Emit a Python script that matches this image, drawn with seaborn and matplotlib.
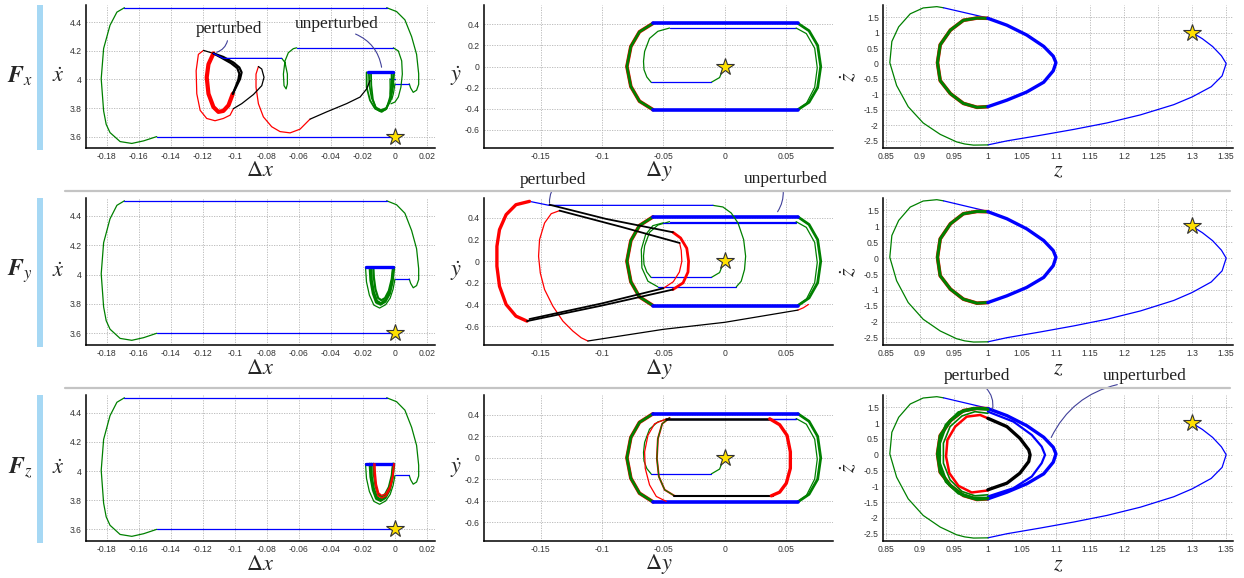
import numpy as np
import matplotlib
matplotlib.use('Agg')
import matplotlib.pyplot as plt
import seaborn as sns
from matplotlib.patches import Rectangle, FancyArrowPatch
from matplotlib.lines import Line2D

sns.set_style('white')
plt.rcParams['font.family'] = ['Liberation Sans', 'DejaVu Sans']
plt.rcParams['mathtext.fontset'] = 'stix'

W, H = 1244, 578
BLUE, GREEN, RED, BLACK = '#0000ff', '#008000', '#ff0000', '#000000'

# tick values / labels
DX_TICKS = [-0.18, -0.16, -0.14, -0.12, -0.1, -0.08, -0.06, -0.04, -0.02, 0, 0.02]
DX_LABELS = ['-0.18', '-0.16', '-0.14', '-0.12', '-0.1', '-0.08', '-0.06', '-0.04', '-0.02', '0', '0.02']
XD_TICKS = [3.6, 3.8, 4.0, 4.2, 4.4]
XD_LABELS = ['3.6', '3.8', '4', '4.2', '4.4']
DY_TICKS = [-0.15, -0.1, -0.05, 0, 0.05]
DY_LABELS = ['-0.15', '-0.1', '-0.05', '0', '0.05']
YD_TICKS = [-0.6, -0.4, -0.2, 0, 0.2, 0.4]
YD_LABELS = ['-0.6', '-0.4', '-0.2', '0', '0.2', '0.4']
Z_TICKS = [0.85, 0.9, 0.95, 1.0, 1.05, 1.1, 1.15, 1.2, 1.25, 1.3, 1.35]
Z_LABELS = ['0.85', '0.9', '0.95', '1', '1.05', '1.1', '1.15', '1.2', '1.25', '1.3', '1.35']
ZD_TICKS = [-2.5, -2, -1.5, -1, -0.5, 0, 0.5, 1, 1.5]
ZD_LABELS = ['-2.5', '-2', '-1.5', '-1', '-0.5', '0', '0.5', '1', '1.5']

ROW_LABELS = [r'$\mathbfit{F}_{x}$', r'$\mathbfit{F}_{y}$', r'$\mathbfit{F}_{z}$']

# start points (stars)
STAR_X = (0.0, 3.6)
STAR_Y = (0.0, 0.0)
STAR_Z = (1.3, 1.0)

# ---------------- column 1 : (dx, xdot) ----------------
DX_BASE_BLUE = [(-0.1488, 3.6), (0.0, 3.6)]
DX_LEFT_ARC = [(-0.1488, 3.6), (-0.157, 3.57), (-0.1644, 3.552), (-0.1717, 3.565), (-0.178, 3.628),
               (-0.1804, 3.686), (-0.182, 3.78), (-0.1835, 4.005), (-0.182, 4.217), (-0.178, 4.38),
               (-0.1737, 4.472), (-0.169, 4.503)]
DX_TOP_BLUE = [(-0.169, 4.503), (-0.0052, 4.503)]
DX_RIGHT_ARC = [(-0.0052, 4.503), (0.001, 4.476), (0.0062, 4.418), (0.0104, 4.30), (0.0135, 4.176),
                (0.0148, 4.04), (0.0148, 3.966), (0.0135, 3.925), (0.0114, 3.91), (0.0098, 3.94), (0.0089, 3.97)]
DX_SHORT_BLUE = [(0.0089, 3.97), (0.0, 3.97)]

DX_BAR = [(-0.0184, 4.05), (-0.001, 4.05)]
DX_U_OUTER = [(0.0, 3.97), (-0.0012, 3.90), (-0.003, 3.84), (-0.0058, 3.795), (-0.0096, 3.772),
              (-0.0132, 3.792), (-0.016, 3.86), (-0.0178, 3.95), (-0.0184, 4.05)]
DX_U1 = [(-0.001, 4.05), (-0.0018, 3.96), (-0.0035, 3.88), (-0.0062, 3.825), (-0.0088, 3.805),
         (-0.0112, 3.82), (-0.0132, 3.88), (-0.0145, 3.96), (-0.0148, 4.05)]
DX_U2 = [(-0.0012, 4.05), (-0.002, 3.97), (-0.0038, 3.89), (-0.0062, 3.84), (-0.0085, 3.825),
         (-0.0105, 3.84), (-0.0122, 3.9), (-0.0132, 3.98), (-0.0135, 4.05)]
DX_U3 = [(-0.0005, 4.05), (-0.0015, 3.95), (-0.0032, 3.87), (-0.006, 3.815), (-0.009, 3.795),
         (-0.0118, 3.81), (-0.0138, 3.87), (-0.0153, 3.96), (-0.0158, 4.05)]
DX_RED_U1 = [(-0.0005, 4.05), (-0.0012, 3.96), (-0.003, 3.88), (-0.0055, 3.83), (-0.0082, 3.815),
             (-0.0106, 3.83), (-0.0122, 3.9), (-0.013, 3.98), (-0.0132, 4.05)]
DX_RED_U2 = [(-0.0008, 4.05), (-0.0015, 3.97), (-0.0033, 3.89), (-0.0057, 3.845), (-0.0082, 3.832),
             (-0.0102, 3.85), (-0.0116, 3.91), (-0.0123, 3.99), (-0.0125, 4.05)]

# row 1 unperturbed cluster
DX1_BAR = [(-0.0166, 4.05), (-0.001, 4.05)]
DX1_U_A = [(-0.0021, 4.05), (-0.0021, 3.992), (-0.0031, 3.877), (-0.0052, 3.796), (-0.0083, 3.773),
           (-0.0125, 3.796), (-0.0156, 3.854), (-0.0177, 3.946), (-0.0177, 4.05)]
DX1_U_B = [(-0.001, 4.05), (-0.0015, 3.96), (-0.003, 3.86), (-0.0055, 3.80), (-0.0088, 3.785),
           (-0.012, 3.805), (-0.0145, 3.87), (-0.016, 3.96), (-0.0163, 4.05)]
DX1_U_C = [(-0.0005, 4.05), (-0.0012, 3.95), (-0.0028, 3.85), (-0.0058, 3.79), (-0.0092, 3.777),
           (-0.0118, 3.795), (-0.0138, 3.86), (-0.0148, 3.96), (-0.015, 4.05)]
DX1_TALL = [(-0.001, 4.222), (0.0021, 4.20), (0.0042, 4.13), (0.0046, 4.038), (0.0037, 3.946),
            (0.0021, 3.877), (0.0, 3.842), (-0.0025, 3.83)]
DX1_HOOK = [(0.0, 3.97), (-0.001, 3.90), (-0.002, 3.86), (-0.003, 3.90), (-0.0031, 4.005)]
DX1_HOOK_BLUE = [(-0.0031, 4.005), (0.0, 4.005)]

# row 1 perturbed
DX1_P_RED = [(-0.1134, 4.183), (-0.1165, 4.107), (-0.1176, 4.015), (-0.1165, 3.900), (-0.1134, 3.807),
             (-0.1103, 3.773), (-0.1072, 3.780), (-0.1040, 3.819), (-0.1013, 3.900)]
DX1_P_BLACK_A = [(-0.1013, 3.900), (-0.0988, 3.957), (-0.0968, 4.003), (-0.0958, 4.050), (-0.0972, 4.084),
                 (-0.1009, 4.119), (-0.1072, 4.158), (-0.1134, 4.183)]
DX1_P_BLACK_B = [(-0.1013, 3.90), (-0.0995, 3.95), (-0.0978, 4.0), (-0.0972, 4.04), (-0.0985, 4.08),
                 (-0.1025, 4.115), (-0.108, 4.15), (-0.1134, 4.183)]
DX1_P_TOP_BLACK = [(-0.1196, 4.204), (-0.1134, 4.183)]
DX1_P_THIN_RED = [(-0.1196, 4.204), (-0.1228, 4.176), (-0.1242, 4.061), (-0.1238, 3.900), (-0.1217, 3.784),
                  (-0.1176, 3.727), (-0.1124, 3.711), (-0.1072, 3.727), (-0.1030, 3.750), (-0.1009, 3.796)]
DX1_P_MID_BLACK = [(-0.1009, 3.796), (-0.0957, 3.831), (-0.0884, 3.895), (-0.0832, 3.957), (-0.0818, 4.015),
                   (-0.0832, 4.073), (-0.0853, 4.091)]
DX1_P_LOW_RED = [(-0.0853, 4.091), (-0.0868, 4.038), (-0.0868, 3.946), (-0.0853, 3.830), (-0.0822, 3.738),
                 (-0.0770, 3.669), (-0.0718, 3.635), (-0.0655, 3.626), (-0.0593, 3.652), (-0.0531, 3.722)]
DX1_P_LINK_BLACK = [(-0.0531, 3.722), (-0.0427, 3.773), (-0.0302, 3.831), (-0.0218, 3.877),
                    (-0.0177, 3.934), (-0.0156, 3.992)]
DX1_P_BLUE = [(-0.1134, 4.183), (-0.1072, 4.148), (-0.0707, 4.148)]
DX1_P_GREEN = [(-0.0707, 4.148), (-0.0687, 4.119), (-0.0672, 4.038), (-0.0672, 3.969), (-0.068, 3.934),
               (-0.0693, 3.957), (-0.0697, 4.038), (-0.0687, 4.13), (-0.0666, 4.188), (-0.0635, 4.216),
               (-0.0614, 4.222)]
DX1_UPPER_BLUE = [(-0.0614, 4.222), (-0.001, 4.222)]

# ---------------- column 2 : (dy, ydot) ----------------
DY_STAR_GREEN = [(0.0, 0.0), (-0.0016, -0.027), (-0.0043, -0.105), (-0.011, -0.15)]
DY_INNER_BLUE = [(-0.011, -0.15), (-0.060, -0.15)]
DY_INNER_GREEN = [(-0.060, -0.15), (-0.0635, -0.1), (-0.0658, -0.03), (-0.0662, 0.05), (-0.0653, 0.143),
                  (-0.0613, 0.267), (-0.0545, 0.335), (-0.045, 0.366)]
DY_MID_BLUE = [(-0.045, 0.366), (0.058, 0.366)]
DY_MID_GREEN = [(0.058, 0.366), (0.0663, 0.313), (0.0731, 0.174), (0.0752, -0.012), (0.0731, -0.198),
                (0.0663, -0.352), (0.0595, -0.405)]
DY_LOW_BLUE = [(0.0595, -0.41), (-0.0585, -0.41)]
DY_LEFT_GREEN = [(-0.0585, -0.41), (-0.0695, -0.33), (-0.0765, -0.19), (-0.0797, 0.0), (-0.0765, 0.19),
                 (-0.0695, 0.33), (-0.0585, 0.41)]
DY_TOP_BLUE = [(-0.0585, 0.41), (0.0595, 0.41)]
DY_RIGHT_GREEN = [(0.0595, 0.41), (0.0685, 0.34), (0.0755, 0.2), (0.078, 0.0), (0.0755, -0.2),
                  (0.0685, -0.34), (0.0595, -0.41)]

# row 2 perturbed (y)
DY2_LOOP_GREEN = [(-0.0545, -0.237), (-0.0626, -0.185), (-0.0675, -0.062), (-0.068, 0.108),
                  (-0.0645, 0.246), (-0.0586, 0.329), (-0.050, 0.356)]
DY2_LOOP_BLUE = [(-0.050, 0.356), (0.058, 0.356)]
DY2_LOW_BLUE = [(-0.0545, -0.237), (0.0093, -0.237)]
DY2_RIGHT_GREEN = [(0.0093, -0.237), (0.0133, -0.185), (0.016, -0.077), (0.0169, 0.046), (0.0153, 0.2),
                   (0.0107, 0.354), (0.0052, 0.446), (-0.0016, 0.502), (-0.0097, 0.517)]
DY2_TOP_BLUE = [(-0.0097, 0.517), (-0.143, 0.517), (-0.159, 0.554)]
DY2_BIG_RED = [(-0.159, 0.554), (-0.170, 0.523), (-0.178, 0.431), (-0.1834, 0.292), (-0.1855, 0.138),
               (-0.1855, -0.046), (-0.1834, -0.231), (-0.178, -0.4), (-0.170, -0.508), (-0.161, -0.554)]
DY2_UP_BLACK = [(-0.1427, 0.523), (-0.0965, 0.391), (-0.0423, 0.268)]
DY2_UP_BLACK2 = [(-0.1345, 0.468), (-0.085, 0.32), (-0.0368, 0.169)]
DY2_LOW_BLACK = [(-0.161, -0.554), (-0.1, -0.41), (-0.0423, -0.262)]
DY2_LOW_BLACK2 = [(-0.159, -0.535), (-0.1, -0.39), (-0.05, -0.25)]
DY2_BOT_BLACK = [(-0.1115, -0.738), (-0.05, -0.63), (0.0, -0.565), (0.0595, -0.452)]
DY2_MID_RED = [(-0.0423, 0.268), (-0.036, 0.215), (-0.031, 0.12), (-0.0295, 0.0), (-0.030, -0.1),
               (-0.034, -0.2), (-0.0423, -0.262)]
DY2_IN_RED = [(-0.0368, 0.169), (-0.0355, 0.1), (-0.035, 0.0), (-0.037, -0.1), (-0.042, -0.19), (-0.05, -0.25)]
DY2_THIN_RED = [(-0.1345, 0.468), (-0.1413, 0.44), (-0.1467, 0.354), (-0.1508, 0.2), (-0.1516, 0.046),
                (-0.1502, -0.108), (-0.1467, -0.262), (-0.14, -0.415), (-0.1318, -0.554), (-0.1237, -0.646),
                (-0.1169, -0.708), (-0.1115, -0.738)]
DY2_END_RED = [(0.0595, -0.452), (0.064, -0.43), (0.068, -0.40)]

# row 3 perturbed (y)
DY3_RED_LEFT = [(-0.0477, 0.363), (-0.0572, 0.317), (-0.0626, 0.209), (-0.0653, 0.055), (-0.0648, -0.098),
                (-0.0613, -0.252), (-0.0558, -0.36), (-0.0477, -0.406)]
DY3_IN_LEFT = [(-0.045, 0.372), (-0.051, 0.317), (-0.0545, 0.178), (-0.0553, -0.006), (-0.0537, -0.175),
               (-0.049, -0.298), (-0.041, -0.354)]
DY3_TOP_BLACK = [(-0.0477, 0.363), (0.0365, 0.363)]
DY3_BOT_BLACK = [(-0.041, -0.354), (0.039, -0.354)]
DY3_RED_RIGHT = [(0.0365, 0.363), (0.0446, 0.308), (0.0506, 0.209), (0.0533, 0.055), (0.0533, -0.098),
                 (0.05, -0.237), (0.0446, -0.32), (0.0378, -0.354)]
DY3_LINK_BLUE = [(0.0365, 0.363), (0.058, 0.363)]

# ---------------- column 3 : (z, zdot) ----------------
DZ_STAR_BLUE = [(1.3, 1.0), (1.315, 0.8), (1.33, 0.55), (1.343, 0.25), (1.35, 0.0), (1.344, -0.4),
                (1.328, -0.75), (1.30, -1.08), (1.273, -1.33), (1.224, -1.66), (1.175, -1.92),
                (1.126, -2.13), (1.077, -2.32), (1.028, -2.5), (1.0, -2.63)]
DZ_OUTER_GREEN = [(1.0, -2.63), (0.979, -2.637), (0.966, -2.6), (0.954, -2.532), (0.930, -2.289),
                  (0.905, -1.921), (0.883, -1.395), (0.866, -0.711), (0.856, 0.026), (0.859, 0.711),
                  (0.869, 1.184), (0.886, 1.605), (0.905, 1.795), (0.925, 1.837), (0.935, 1.80)]
DZ_LINK_BLUE = [(0.935, 1.80), (1.0, 1.47)]
DZ_LOOP_BLUE = [(1.0, 1.46), (1.028, 1.237), (1.057, 0.921), (1.082, 0.553), (1.096, 0.237), (1.100, 0.026),
                (1.096, -0.237), (1.082, -0.605), (1.057, -0.921), (1.028, -1.184), (1.0, -1.395)]
DZ_LOOP_GREEN = [(1.0, -1.395), (0.984, -1.416), (0.964, -1.289), (0.945, -0.974), (0.930, -0.553),
                 (0.926, 0.026), (0.930, 0.605), (0.945, 1.079), (0.964, 1.395), (0.984, 1.468), (1.0, 1.46)]

# row 3 perturbed (z)
DZ3_BLUE2 = [(1.0, 1.363), (1.0376, 1.047), (1.0645, 0.626), (1.079, 0.258), (1.084, -0.005),
             (1.079, -0.268), (1.0645, -0.689), (1.0376, -1.058), (1.0, -1.321)]
DZ3_BLACK = [(1.0, 1.153), (1.028, 0.889), (1.047, 0.521), (1.060, 0.153), (1.062, -0.005),
             (1.060, -0.216), (1.047, -0.584), (1.028, -0.9), (1.0, -1.11)]
DZ3_RED = [(1.0, 1.153), (0.9886, 1.258), (0.969, 1.205), (0.952, 0.889), (0.9406, 0.468), (0.9386, -0.058),
           (0.9435, -0.584), (0.9568, -0.984), (0.9763, -1.195), (1.0, -1.13)]
DZ3_GREEN1 = [(1.0, 1.437), (0.979, 1.468), (0.957, 1.332), (0.9386, 0.942), (0.929, 0.363), (0.929, -0.268),
              (0.9386, -0.847), (0.957, -1.216), (0.979, -1.374), (1.0, -1.374)]
DZ3_GREEN2 = [(1.0, 1.31), (0.981, 1.363), (0.962, 1.226), (0.9445, 0.889), (0.9347, 0.363), (0.9347, -0.268),
              (0.9445, -0.795), (0.962, -1.163), (0.981, -1.3), (1.0, -1.268)]


def trace(ax, pts, color, lw=0.9, z=2):
    p = np.asarray(pts)
    sns.lineplot(x=p[:, 0], y=p[:, 1], sort=False, estimator=None, color=color, lw=lw,
                 ax=ax, zorder=z, solid_joinstyle='round', solid_capstyle='round')


def star(ax, pt):
    ax.plot([pt[0]], [pt[1]], marker='*', ms=13, mfc='#ffe000', mec='#333333', mew=0.8, zorder=10, clip_on=False)


def setup(ax, xlim, ylim, xt, xl, yt, yl, xlabel, ylabel, yrot, ylx):
    ax.set_xlim(xlim)
    ax.set_ylim(ylim)
    ax.set_xticks(xt, xl)
    ax.set_yticks(yt, yl)
    ax.grid(True, color='#b4b4b4', lw=0.6, ls=(0, (1.5, 1.5)))
    ax.set_axisbelow(True)
    for s in ['top', 'right']:
        ax.spines[s].set_visible(False)
    for s in ['left', 'bottom']:
        ax.spines[s].set_color('black')
        ax.spines[s].set_linewidth(1.1)
    ax.tick_params(labelsize=6.2, labelcolor='#333333', color='black', length=2, direction='in', pad=3)
    ax.set_xlabel(xlabel, fontsize=16, va='center')
    ax.xaxis.set_label_coords(0.5, -0.16)
    ax.set_ylabel(ylabel, fontsize=16, rotation=yrot, va='center', ha='center')
    ax.yaxis.set_label_coords(ylx, 0.5)


fig = plt.figure(figsize=(W / 100, H / 100), dpi=100)


def add_axes(left, right, top, bottom):
    return fig.add_axes([left / W, 1 - bottom / H, (right - left) / W, (bottom - top) / H])


ROW_TB = [(5, 148), (198, 345), (395, 541)]
COL_LR = [(86, 435), (484, 833), (883, 1233)]

for r, (top, bot) in enumerate(ROW_TB):
    # ----- column 1
    ax = add_axes(COL_LR[0][0], COL_LR[0][1], top, bot)
    for seg in [DX_LEFT_ARC, DX_RIGHT_ARC]:
        trace(ax, seg, GREEN)
    for seg in [DX_BASE_BLUE, DX_TOP_BLUE, DX_SHORT_BLUE]:
        trace(ax, seg, BLUE)
    if r == 0:
        trace(ax, DX1_TALL, GREEN)
        trace(ax, DX1_HOOK, GREEN)
        trace(ax, DX1_HOOK_BLUE, BLUE)
        for seg in [DX1_U_A, DX1_U_B, DX1_U_C]:
            trace(ax, seg, GREEN, lw=1.3)
        trace(ax, DX1_BAR, BLUE, lw=2.4)
        trace(ax, DX1_UPPER_BLUE, BLUE)
        trace(ax, DX1_P_GREEN, GREEN)
        trace(ax, DX1_P_BLUE, BLUE, z=4)
        trace(ax, DX1_P_THIN_RED, RED, z=3)
        trace(ax, DX1_P_LOW_RED, RED, z=3)
        trace(ax, DX1_P_MID_BLACK, BLACK, z=3)
        trace(ax, DX1_P_LINK_BLACK, BLACK, z=3)
        trace(ax, DX1_P_TOP_BLACK, BLACK, z=3)
        trace(ax, DX1_P_RED, RED, lw=3.0, z=3)
        trace(ax, DX1_P_BLACK_A, BLACK, lw=1.6, z=3)
        trace(ax, DX1_P_BLACK_B, BLACK, lw=1.6, z=3)
    else:
        trace(ax, DX_U_OUTER, GREEN)
        for seg in [DX_U1, DX_U2, DX_U3]:
            trace(ax, seg, GREEN, lw=1.6)
        if r == 2:
            trace(ax, DX_RED_U1, RED, lw=1.0, z=3)
            trace(ax, DX_RED_U2, RED, lw=1.0, z=3)
        trace(ax, DX_BAR, BLUE, lw=2.4)
    star(ax, STAR_X)
    setup(ax, (-0.193, 0.025), (3.52, 4.522), DX_TICKS, DX_LABELS, XD_TICKS, XD_LABELS,
          r'$\Delta x$', r'$\dot{x}$', 0, -0.08)

    # ----- column 2
    ax = add_axes(COL_LR[1][0], COL_LR[1][1], top, bot)
    trace(ax, DY_LEFT_GREEN, RED, lw=2.6)
    trace(ax, DY_STAR_GREEN, GREEN)
    trace(ax, DY_INNER_BLUE, BLUE)
    trace(ax, DY_INNER_GREEN, GREEN)
    trace(ax, DY_MID_BLUE, BLUE)
    trace(ax, DY_MID_GREEN, GREEN)
    trace(ax, DY_LEFT_GREEN, GREEN, lw=2.0)
    trace(ax, DY_RIGHT_GREEN, GREEN, lw=2.0)
    trace(ax, DY_LOW_BLUE, BLUE, lw=2.6)
    trace(ax, DY_TOP_BLUE, BLUE, lw=2.6)
    if r == 1:
        trace(ax, DY2_LOOP_GREEN, GREEN)
        trace(ax, DY2_LOOP_BLUE, BLUE)
        trace(ax, DY2_LOW_BLUE, BLUE)
        trace(ax, DY2_RIGHT_GREEN, GREEN)
        trace(ax, DY2_TOP_BLUE, BLUE)
        trace(ax, DY2_BIG_RED, RED, lw=2.4, z=3)
        trace(ax, DY2_THIN_RED, RED, z=3)
        trace(ax, DY2_MID_RED, RED, lw=2.0, z=3)
        trace(ax, DY2_IN_RED, RED, z=3)
        trace(ax, DY2_END_RED, RED, z=3)
        for seg in [DY2_UP_BLACK, DY2_UP_BLACK2, DY2_LOW_BLACK, DY2_LOW_BLACK2]:
            trace(ax, seg, BLACK, lw=1.3, z=3)
        trace(ax, DY2_BOT_BLACK, BLACK, z=3)
    if r == 2:
        trace(ax, DY3_LINK_BLUE, BLUE)
        trace(ax, DY3_RED_LEFT, RED, z=3)
        trace(ax, DY3_IN_LEFT, RED, lw=1.4, z=3)
        trace(ax, DY3_IN_LEFT, GREEN, lw=0.8, z=3)
        trace(ax, DY3_TOP_BLACK, BLACK, lw=1.8, z=3)
        trace(ax, DY3_BOT_BLACK, BLACK, lw=1.5, z=3)
        trace(ax, DY3_RED_RIGHT, RED, lw=2.4, z=3)
    star(ax, STAR_Y)
    setup(ax, (-0.196, 0.088), (-0.775, 0.585), DY_TICKS, DY_LABELS, YD_TICKS, YD_LABELS,
          r'$\Delta y$', r'$\dot{y}$', 0, -0.08)

    # ----- column 3
    ax = add_axes(COL_LR[2][0], COL_LR[2][1], top, bot)
    trace(ax, DZ_STAR_BLUE, BLUE)
    trace(ax, DZ_OUTER_GREEN, GREEN)
    trace(ax, DZ_LINK_BLUE, BLUE)
    trace(ax, DZ_LOOP_GREEN, RED, lw=2.6)
    trace(ax, DZ_LOOP_GREEN, GREEN, lw=2.2)
    trace(ax, DZ_LOOP_BLUE, BLUE, lw=2.4)
    if r == 2:
        trace(ax, DZ3_BLUE2, BLUE, lw=1.6)
        trace(ax, DZ3_GREEN2, GREEN, lw=1.2)
        trace(ax, DZ3_GREEN1, GREEN, lw=2.2)
        trace(ax, DZ3_RED, RED, lw=1.8, z=3)
        trace(ax, DZ3_BLACK, BLACK, lw=2.4, z=3)
    star(ax, STAR_Z)
    setup(ax, (0.846, 1.36), (-2.73, 1.89), Z_TICKS, Z_LABELS, ZD_TICKS, ZD_LABELS,
          r'$z$', r'$\dot{z}$', 90, -0.095)

# row decorations
for r, (top, bot) in enumerate(ROW_TB):
    fig.add_artist(Rectangle((37 / W, 1 - (bot + 2) / H), 6 / W, (bot - top + 2) / H,
                             transform=fig.transFigure, color='#a6d8f4', lw=0))
    fig.text(20 / W, 1 - (top + bot) / 2 / H, ROW_LABELS[r], fontsize=17, ha='center', va='center')

for yy in [191, 388]:
    fig.add_artist(Line2D([65 / W, 1230 / W], [1 - yy / H] * 2, transform=fig.transFigure,
                          color='#c4c4c4', lw=1.6))


def note(text, tx, ty, p0, p1, rad):
    fig.text(tx / W, 1 - ty / H, text, fontsize=12.5, family='Liberation Serif', color='#222222',
             ha='center', va='center')
    fig.add_artist(FancyArrowPatch((p0[0] / W, 1 - p0[1] / H), (p1[0] / W, 1 - p1[1] / H),
                                   transform=fig.transFigure, arrowstyle='-', color='#40409a', lw=0.8,
                                   connectionstyle=f'arc3,rad={rad}'))


note('perturbed', 229, 29, (228, 38), (214, 53), -0.35)
note('unperturbed', 337, 24, (353, 33), (382, 70), -0.3)
note('perturbed', 553, 180, (553, 189), (550, 206), 0.2)
note('unperturbed', 786, 179, (783, 188), (776, 214), -0.2)
note('perturbed', 977, 376, (984, 386), (992, 412), -0.3)
note('unperturbed', 1145, 376, (1120, 384), (1050, 440), 0.25)

fig.savefig('out.png', dpi=100)
